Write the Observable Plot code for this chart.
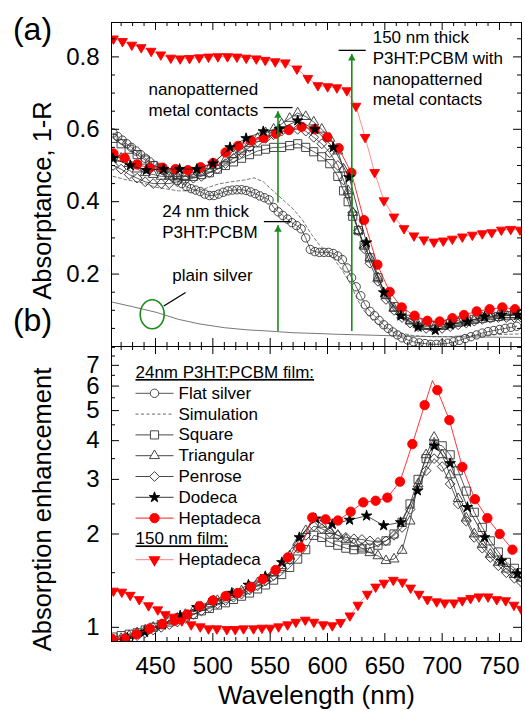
<!DOCTYPE html>
<html><head><meta charset="utf-8">
<script src="https://cdn.jsdelivr.net/npm/d3@7"></script>
<script src="https://cdn.jsdelivr.net/npm/@observablehq/plot@0.6"></script>
<style>
html,body{margin:0;padding:0;background:#fff;}
#wrap{position:relative;width:525px;height:711px;overflow:hidden;}
#pa,#pb{position:absolute;left:0;}
#pa{top:0;} #pb{top:345px;}
#wrap svg, #wrap svg text{font-family:"Liberation Sans", Arial, Helvetica, sans-serif;}
</style></head><body><div id="wrap"><div id="pb"></div><div id="pa"></div></div>
<script>
// ---------------- DATA ----------------
// x ticks (nm)
const xMajor = [450, 500, 550, 600, 650, 700, 750];
const xMinor = [420,430,440,460,470,480,490,510,520,530,540,560,570,580,590,610,620,630,640,660,670,680,690,710,720,730,740,760];
const yLabelsA = [0.2, 0.4, 0.6, 0.8];
const yMinorA = [0.05,0.1,0.15,0.25,0.3,0.35,0.45,0.5,0.55,0.65,0.7,0.75,0.85];
const yLabelsB = [1, 2, 3, 4, 5, 6, 7];
const yMinorB = [1.5, 2.5, 3.5, 4.5, 5.5, 6.5, 7.5, 8];

// Panel (a): absorptance [wavelength nm, value]
const hepta150A = [[413.3,.850],[421.2,.843],[429.3,.833],[437.5,.826],[446.2,.816],[454.6,.806],[463.3,.797],[471.5,.795],[479.7,.796],[488.1,.798],[496.2,.800],[504.4,.801],[512.8,.801],[521,.800],[529.1,.797],[537.9,.795],[545.7,.791],[554.4,.787],[563.2,.784],[573.3,.767],[582.9,.741],[591.6,.721],[600.1,.718],[608.2,.715],[616.9,.707],[624.8,.664],[632.8,.578],[641.1,.481],[649.2,.403],[657.9,.358],[666.7,.326],[675.4,.306],[684.1,.295],[692.8,.289],[701,.292],[708.9,.297],[717.6,.303],[726.3,.308],[735,.312],[743.2,.315],[751.6,.322],[759.8,.324],[767.9,.322]];
const heptaA = [[413.3,.533],[423,.521],[433.9,.503],[444.8,.493],[456.1,.494],[467.4,.490],[478.2,.487],[489.3,.495],[500.2,.507],[511.1,.536],[522,.554],[533.3,.569],[544.2,.576],[555.1,.588],[566.3,.598],[577.4,.607],[588.7,.600],[599.8,.578],[609.7,.548],[620.8,.480],[631.8,.349],[643.5,.226],[654.2,.151],[664.7,.108],[676,.085],[687.1,.071],[697.8,.069],[708.9,.078],[719,.087],[730.1,.097],[741.4,.103],[752.5,.108],[763.5,.103]];
const dodecaA = [[413,.52],[428,.50],[442,.487],[457,.49],[471,.49],[486,.49],[500,.505],[515,.55],[529,.575],[544,.594],[558,.60],[574,.624],[589,.60],[605,.55],[619,.467],[634,.287],[649,.149],[664,.085],[679,.054],[694,.045],[707,.060],[722,.068],[737,.082],[752,.087],[766,.087]];
const squareA = [[413,.575],[420,.56],[427,.545],[434,.53],[441,.515],[448,.50],[455,.49],[462,.48],[469,.475],[476,.47],[483,.47],[490,.475],[497,.48],[504,.49],[511,.50],[518,.51],[525,.52],[532,.53],[539,.54],[546,.545],[553,.55],[560,.55],[567,.555],[574,.56],[581,.55],[588,.538],[595,.524],[602,.505],[609,.47],[614,.43],[618,.40],[622,.36],[627,.32],[632,.28],[637,.245],[644,.19],[651,.145],[658,.11],[665,.09],[672,.075],[679,.065],[686,.06],[693,.058],[700,.06],[707,.063],[714,.067],[721,.07],[728,.075],[735,.078],[742,.08],[749,.083],[756,.085],[763,.087],[769,.088]];
const triangA = [[413,.53],[420,.52],[427,.505],[434,.49],[441,.48],[448,.475],[455,.47],[462,.47],[469,.47],[476,.47],[483,.475],[490,.48],[497,.49],[504,.50],[511,.515],[518,.53],[525,.545],[532,.56],[539,.575],[546,.59],[553,.60],[560,.615],[567,.63],[574,.645],[581,.635],[588,.62],[595,.60],[602,.575],[609,.54],[614,.49],[618,.43],[622,.37],[627,.32],[632,.28],[637,.245],[644,.19],[651,.14],[658,.105],[665,.085],[672,.07],[679,.06],[686,.055],[693,.053],[700,.055],[707,.06],[714,.065],[721,.07],[728,.075],[735,.08],[742,.082],[749,.085],[756,.087],[763,.088],[769,.09]];
const penroseA = [[413,.50],[420,.49],[427,.475],[434,.465],[441,.455],[448,.45],[455,.45],[462,.45],[469,.455],[476,.46],[483,.465],[490,.47],[497,.48],[504,.49],[511,.505],[518,.52],[525,.535],[532,.55],[539,.565],[546,.575],[553,.585],[560,.595],[567,.60],[574,.60],[581,.595],[588,.578],[595,.56],[602,.535],[609,.50],[614,.46],[618,.42],[622,.37],[627,.32],[632,.27],[637,.23],[644,.18],[651,.13],[658,.10],[665,.08],[672,.065],[679,.055],[686,.05],[693,.048],[700,.05],[707,.055],[714,.06],[721,.065],[728,.07],[735,.075],[742,.078],[749,.08],[756,.08],[763,.08],[769,.08]];
const flatA = [[413,.59],[417,.58],[421,.57],[425,.56],[429,.55],[433,.54],[437,.53],[441,.52],[445,.51],[449,.50],[453,.495],[457,.486],[461,.476],[465,.468],[469,.459],[473,.45],[477,.442],[481,.436],[485,.432],[489,.428],[493,.421],[497,.417],[501,.417],[505,.421],[509,.426],[513,.43],[517,.432],[521,.433],[525,.433],[529,.431],[533,.427],[537,.422],[541,.416],[545,.411],[549,.405],[553,.384],[557,.372],[561,.362],[565,.352],[569,.342],[573,.334],[577,.325],[581,.30],[585,.268],[589,.262],[593,.26],[597,.26],[601,.26],[605,.257],[609,.25],[613,.24],[617,.217],[621,.19],[625,.165],[629,.14],[633,.115],[637,.097],[641,.085],[645,.072],[649,.06],[653,.05],[657,.04],[661,.032],[665,.024],[670,.018],[675,.013],[680,.01],[685,.008],[690,.006],[695,.006],[700,.007],[705,.009],[710,.013],[715,.017],[720,.022],[725,.027],[730,.032],[735,.037],[740,.041],[745,.044],[750,.047],[755,.05],[760,.053],[765,.056]];
const simA = [[413,.47],[425,.46],[438,.453],[450,.44],[460,.435],[470,.43],[481,.43],[492,.435],[505,.449],[516,.455],[528,.46],[536,.466],[544,.455],[549,.44],[556,.42],[563,.40],[570,.38],[578,.35],[586,.31],[593,.28],[600,.26],[606,.24],[613,.21],[620,.173],[626,.13],[632,.098],[640,.07],[649,.052],[660,.04],[675,.03],[690,.027],[705,.027],[720,.03],[740,.032],[760,.034],[769,.035]];
const plainA = [[411.6,.123],[430,.11],[451,.094],[470,.075],[489,.062],[510,.052],[530,.046],[547,.043],[570,.038],[590,.036],[606,.034],[630,.032],[664,.029],[700,.027],[740,.026],[769,.025]];

// Panel (b): absorption enhancement [wavelength nm, value]
const hepta150B = [[413.3,1.31],[420.6,1.30],[427.9,1.27],[435.8,1.23],[443.9,1.175],[452,1.14],[458.5,1.10],[465.7,1.08],[473,1.05],[481.1,1.02],[489,1.005],[496.2,.99],[503.5,.99],[512.2,.985],[519.5,.985],[526.8,.99],[535.5,.99],[542.8,.995],[550.1,.995],[557.3,1.005],[565.2,1.02],[572.4,1.04],[580.6,1.056],[588.1,1.04],[596.3,1.02],[604.2,1.013],[611.4,1.037],[619.5,1.09],[626.5,1.18],[634.7,1.28],[642,1.35],[649.2,1.39],[657.4,1.42],[665.3,1.40],[672.5,1.34],[679.8,1.28],[687.1,1.23],[695.2,1.21],[702.2,1.20],[710.3,1.20],[717.6,1.22],[724.8,1.24],[732.1,1.255],[740,1.255],[747.6,1.23],[755.4,1.22],[762.6,1.18],[769,1.145]];
const heptaB = [[412.2,.917],[423,.92],[433.4,.95],[444.8,.99],[455.8,1.025],[466.6,1.05],[477.7,1.10],[488.4,1.17],[500,1.22],[511.1,1.26],[521.8,1.29],[533.1,1.35],[543.6,1.43],[554.7,1.53],[565.4,1.68],[576.5,1.81],[586.7,2.26],[598.3,2.23],[609.1,2.21],[620.2,2.36],[631.2,2.53],[642,2.56],[652.2,2.62],[663.2,2.95],[674,3.90],[684.7,5.21],[695.8,5.82],[706.3,4.66],[717.6,3.29],[728.6,2.59],[739.4,2.25],[750.2,2.0],[761.3,1.78]];
const heptaBLinePeak = [[691.5,6.25]];
const dodecaB = [[425.3,.924],[440.5,.965],[456,1.02],[471.5,1.09],[486,1.16],[500.6,1.22],[516.6,1.29],[531,1.37],[545.7,1.46],[560.2,1.62],[575.4,1.95],[589.6,2.24],[604.2,2.15],[619.3,2.22],[634.1,2.29],[649,2.13],[663.8,2.18],[678.4,2.76],[693.1,3.85],[707,3.38],[722,2.44],[737.1,1.95],[751.7,1.64],[765.6,1.49]];
const squareB = [[413,.93],[420,.94],[427,.95],[434,.96],[441,.98],[448,1.0],[455,1.02],[462,1.04],[469,1.06],[476,1.08],[483,1.10],[490,1.13],[497,1.15],[504,1.18],[511,1.20],[518,1.23],[525,1.26],[532,1.29],[539,1.33],[546,1.37],[553,1.42],[560,1.48],[567,1.56],[574,1.66],[581,1.78],[588,1.98],[595,1.95],[602,1.88],[609,1.84],[616,1.80],[623,1.78],[630,1.79],[637,1.80],[644,1.84],[651,1.90],[658,2.00],[665,2.18],[672,2.5],[679,3.0],[686,3.5],[693,3.9],[700,3.85],[707,3.6],[714,3.2],[721,2.75],[728,2.35],[735,2.1],[742,1.9],[749,1.75],[756,1.62],[763,1.55],[769,1.5]];
const triangB = [[413,.90],[420,.92],[427,.94],[434,.96],[441,.98],[448,1.0],[455,1.02],[462,1.05],[469,1.07],[476,1.10],[483,1.13],[490,1.16],[497,1.19],[504,1.22],[511,1.25],[518,1.28],[525,1.31],[532,1.35],[539,1.39],[546,1.44],[553,1.50],[560,1.58],[567,1.70],[574,1.88],[581,2.05],[588,2.25],[595,2.15],[602,2.05],[609,1.98],[616,1.92],[623,1.86],[630,1.80],[637,1.74],[644,1.70],[651,1.64],[658,1.66],[665,1.77],[672,2.2],[679,2.9],[686,3.6],[693,4.1],[700,3.6],[707,3.1],[714,2.6],[721,2.25],[728,2.0],[735,1.85],[742,1.72],[749,1.62],[756,1.54],[763,1.48],[769,1.44]];
const penroseB = [[413,.88],[420,.90],[427,.92],[434,.94],[441,.96],[448,.98],[455,1.0],[462,1.02],[469,1.04],[476,1.07],[483,1.10],[490,1.13],[497,1.16],[504,1.19],[511,1.22],[518,1.25],[525,1.28],[532,1.32],[539,1.36],[546,1.41],[553,1.47],[560,1.55],[567,1.65],[574,1.80],[581,1.98],[588,2.12],[595,2.08],[602,2.02],[609,1.98],[616,1.95],[623,1.93],[630,1.92],[637,1.90],[644,1.88],[651,1.90],[658,1.98],[665,2.1],[672,2.4],[679,2.8],[686,3.2],[693,3.5],[700,3.3],[707,2.9],[714,2.5],[721,2.2],[728,1.95],[735,1.8],[742,1.68],[749,1.58],[756,1.5],[763,1.44],[769,1.40]];

// Legend labels
const legendTitle24 = "24nm P3HT:PCBM film:";
const legendTitle150 = "150 nm film:";
const legendLabels = ["Flat silver", "Simulation", "Square", "Triangular", "Penrose", "Dodeca", "Heptadeca"];
const legendLabel150 = "Heptadeca";

// Annotations in panel (a)
const annoTexts = [
  {text: "nanopatterned\nmetal contacts", x: 443.9, y: 0.638},
  {text: "24 nm thick\nP3HT:PCBM", x: 455.8, y: 0.301},
  {text: "150 nm thick\nP3HT:PCBM with\nnanopatterned\nmetal contacts", x: 639.4, y: 0.666},
  {text: "plain silver", x: 464.6, y: 0.181}
];
const annoBars = [{x1: 544.2, x2: 569.5, y: 0.660}, {x1: 544.5, x2: 567.8, y: 0.345}, {x1: 609.7, x2: 633.3, y: 0.818}];
const greenArrows = [{x: 556.8, y1: 0.398, y2: 0.650}, {x: 556.8, y1: 0.043, y2: 0.335}, {x: 621.2, y1: 0.043, y2: 0.808}];
const pointer = [{x1: 457.2, y1: 0.112, x2: 476.2, y2: 0.149}];
const ellipseAt = [{x: 447.1, y: 0.089}];

// ---------------- RENDER ----------------
const FONT = '"Liberation Sans", Arial, Helvetica, sans-serif';
const RED = "#ff0000";
const GREEN = "#1a8c1a";
const xDomain = [411.6, 769.2];
const W = 525, ML = 111, MR = 4;
const plotW = W - ML - MR;
const rows = a => a.map(([w, v]) => ({w, v}));

const lineSym = {draw(ctx) { ctx.moveTo(-19, 0); ctx.lineTo(19, 0); }};
const ellipseSym = {draw(ctx) {
  const rx = 12, ry = 14.5, k = 0.5523;
  ctx.moveTo(rx, 0);
  ctx.bezierCurveTo(rx, ry * k, rx * k, ry, 0, ry);
  ctx.bezierCurveTo(-rx * k, ry, -rx, ry * k, -rx, 0);
  ctx.bezierCurveTo(-rx, -ry * k, -rx * k, -ry, 0, -ry);
  ctx.bezierCurveTo(rx * k, -ry, rx, -ry * k, rx, 0);
  ctx.closePath();
}};

const STY = {
  flat:   {symbol: "circle", r: 4.2, fill: "none", stroke: "#333", line: "#444"},
  sim:    {symbol: null, line: "#555", dash: "3,2.5"},
  square: {symbol: "square", r: 4.6, fill: "none", stroke: "#333", line: "#333"},
  triang: {symbol: "triangle", r: 3.7, fill: "none", stroke: "#333", line: "#333"},
  penrose:{symbol: "square", r: 3.9, rotate: 45, fill: "none", stroke: "#333", line: "#333"},
  dodeca: {symbol: "star", r: 3.3, fill: "#000", stroke: "#000", line: "#222"},
  hepta:  {symbol: "circle", r: 4.7, fill: RED, stroke: RED, line: RED},
  hepta150: {symbol: "triangle", r: 3.6, rotate: 180, fill: RED, stroke: RED, line: "#ff7070"}
};

function seriesMarks(data, s, lineData) {
  const out = [];
  if (s.line) out.push(Plot.line(rows(lineData || data).sort((a, b) => a.w - b.w), {x: "w", y: "v", stroke: s.line, strokeWidth: 0.8, strokeDasharray: s.dash, clip: true}));
  if (s.symbol) out.push(Plot.dot(rows(data), {x: "w", y: "v", symbol: s.symbol, r: s.r, rotate: s.rotate || 0, fill: s.fill, stroke: s.stroke, strokeWidth: 0.9, clip: true}));
  return out;
}

function frameTicks(plotH, yMaj, yMin) {
  const L = 8, S = 4;
  return [
    Plot.tickX(xMajor, {x: d => d, insetBottom: plotH - L, stroke: "#000"}),
    Plot.tickX(xMinor, {x: d => d, insetBottom: plotH - S, stroke: "#000"}),
    Plot.tickX(xMajor, {x: d => d, insetTop: plotH - L, stroke: "#000"}),
    Plot.tickX(xMinor, {x: d => d, insetTop: plotH - S, stroke: "#000"}),
    Plot.tickY(yMaj, {y: d => d, insetRight: plotW - L, stroke: "#000"}),
    Plot.tickY(yMin, {y: d => d, insetRight: plotW - S, stroke: "#000"}),
    Plot.tickY(yMaj, {y: d => d, insetLeft: plotW - L, stroke: "#000"}),
    Plot.tickY(yMin, {y: d => d, insetLeft: plotW - S, stroke: "#000"})
  ];
}

const label = (s, o) => Plot.text([s], {text: d => d, textAnchor: "middle", lineAnchor: "middle", ...o});

// ---- Panel (a)
const HA = 347, MTA = 22, MBA = 1;
const plotA = Plot.plot({
  width: W, height: HA, marginLeft: ML, marginRight: MR, marginTop: MTA, marginBottom: MBA,
  style: {fontFamily: FONT, background: "transparent", color: "#000"},
  x: {domain: xDomain, axis: null},
  y: {domain: [0, 0.895]},
  marks: [
    ...seriesMarks(plainA, {line: "#555"}),
    ...seriesMarks(simA, STY.sim),
    ...seriesMarks(flatA, STY.flat),
    ...seriesMarks(squareA, STY.square),
    ...seriesMarks(triangA, STY.triang),
    ...seriesMarks(penroseA, STY.penrose),
    ...seriesMarks(heptaA, STY.hepta),
    ...seriesMarks(dodecaA, STY.dodeca),
    ...seriesMarks(hepta150A, STY.hepta150),
    Plot.link(greenArrows, {x1: "x", x2: "x", y1: "y1", y2: "y2", stroke: GREEN, strokeWidth: 1.6}),
    Plot.dot(greenArrows, {x: "x", y: "y2", symbol: "triangle", r: 2.8, fill: GREEN, stroke: "none", dy: 4.3}),
    Plot.link(annoBars, {x1: "x1", x2: "x2", y1: "y", y2: "y", stroke: "#000", strokeWidth: 1.3}),
    Plot.link(pointer, {x1: "x1", x2: "x2", y1: "y1", y2: "y2", stroke: "#000", strokeWidth: 1.3}),
    Plot.dot(ellipseAt, {x: "x", y: "y", symbol: ellipseSym, fill: "none", stroke: GREEN, strokeWidth: 1.6}),
    Plot.text(annoTexts, {x: "x", y: "y", text: "text", textAnchor: "start", lineAnchor: "bottom", lineHeight: 1.22, fontSize: 17, fill: "#000"}),
    ...frameTicks(HA - MTA - MBA, yLabelsA, yMinorA),
    Plot.axisY({ticks: yLabelsA, tickSize: 0, tickPadding: 12, tickFormat: d => d.toFixed(1), fontSize: 24, label: null}),
    Plot.frame({stroke: "#000", strokeWidth: 1}),
    label("Absorptance, 1-R", {frameAnchor: "left", dx: -69, dy: 16, rotate: -90, fontSize: 25.5}),
    label("(a)", {frameAnchor: "top-left", dx: -79, dy: 7, fontSize: 32}),
    label("(b)", {frameAnchor: "bottom-left", dx: -79, dy: -26, fontSize: 32})
  ]
});
document.getElementById("pa").appendChild(plotA);

// ---- Panel (b)
const HB = 366, MTB = 1, MBB = 70;
const legendDy = i => 46.8 + 20.8 * i;
const legendKeys = ["flat", "sim", "square", "triang", "penrose", "dodeca", "hepta"];
const legendMarks = [];
const ltext = (s, dx, dy) => Plot.text([s], {text: d => d, frameAnchor: "top-left", dx, dy, textAnchor: "start", lineAnchor: "middle", fontSize: 17});
legendKeys.forEach((k, i) => {
  const s = STY[k];
  legendMarks.push(Plot.dot([0], {frameAnchor: "top-left", dx: 43, dy: legendDy(i), symbol: lineSym, fill: "none", stroke: s.line, strokeWidth: 0.9, strokeDasharray: s.dash}));
  if (s.symbol) legendMarks.push(Plot.dot([0], {frameAnchor: "top-left", dx: 43, dy: legendDy(i), symbol: s.symbol, r: s.r, rotate: s.rotate || 0, fill: s.fill === "none" ? "#fff" : s.fill, stroke: s.stroke, strokeWidth: 0.9}));
  legendMarks.push(ltext(legendLabels[i], 67, legendDy(i)));
});
legendMarks.push(ltext(legendTitle24, 24, legendDy(-1)));
legendMarks.push(ltext(legendTitle150, 24, legendDy(7)));
legendMarks.push(Plot.dot([0], {frameAnchor: "top-left", dx: 43, dy: legendDy(8), symbol: lineSym, fill: "none", stroke: STY.hepta150.line, strokeWidth: 0.9}));
legendMarks.push(Plot.dot([0], {frameAnchor: "top-left", dx: 43, dy: legendDy(8), symbol: "triangle", rotate: 180, r: STY.hepta150.r, fill: RED, stroke: RED}));
legendMarks.push(ltext(legendLabel150, 67, legendDy(8)));

const plotB = Plot.plot({
  width: W, height: HB, marginLeft: ML, marginRight: MR, marginTop: MTB, marginBottom: MBB,
  style: {fontFamily: FONT, background: "transparent", color: "#000"},
  x: {domain: xDomain},
  y: {type: "log", domain: [0.9, 8.05]},
  marks: [
    ...seriesMarks(squareB, STY.square),
    ...seriesMarks(triangB, STY.triang),
    ...seriesMarks(penroseB, STY.penrose),
    ...seriesMarks(dodecaB, STY.dodeca),
    ...seriesMarks(heptaB, STY.hepta, heptaB.concat(heptaBLinePeak)),
    ...seriesMarks(hepta150B, STY.hepta150),
    ...frameTicks(HB - MTB - MBB, yLabelsB, yMinorB),
    Plot.axisY({ticks: yLabelsB, tickSize: 0, tickPadding: 12, tickFormat: d => String(d), fontSize: 24, label: null}),
    Plot.axisX({ticks: xMajor, tickSize: 0, tickPadding: 15, tickFormat: d => String(d), fontSize: 24, label: null}),
    Plot.frame({stroke: "#000", strokeWidth: 1}),
    ...legendMarks,
    label("Absorption enhancement", {frameAnchor: "left", dx: -69, dy: 15.5, rotate: -90, fontSize: 25.5}),
    label("Wavelength (nm)", {frameAnchor: "bottom", dy: 54, fontSize: 26})
  ]
});
document.getElementById("pb").appendChild(plotB);

// underline legend headings
d3.select(plotB).selectAll("text").each(function() {
  const t = this.textContent;
  if (t === legendTitle24 || t === legendTitle150) this.setAttribute("text-decoration", "underline");
});
</script></body></html>
